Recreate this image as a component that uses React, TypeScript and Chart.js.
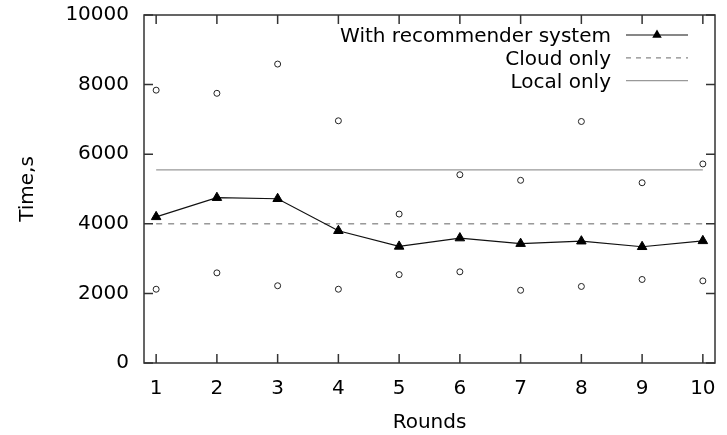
import React, { useEffect, useRef } from 'react';
import { Chart, registerables } from 'chart.js';

Chart.register(...registerables);

const rounds = [1, 2, 3, 4, 5, 6, 7, 8, 9, 10];
const recommenderTimes = [4200, 4750, 4720, 3800, 3350, 3590, 3430, 3500, 3340, 3510];
const upperTimes = [7840, 7750, 8590, 6960, 4280, 5410, 5250, 6940, 5180, 5720];
const lowerTimes = [2120, 2590, 2220, 2120, 2540, 2620, 2090, 2200, 2400, 2360];
const cloudOnlyTime = 4000;
const localOnlyTime = 5550;
const yTickValues = [0, 2000, 4000, 6000, 8000, 10000];
const seriesLabels = ['With recommender system', 'Cloud only', 'Local only'];
const xTitle = 'Rounds';
const yTitle = 'Time,s';

const FONT = "'DejaVu Sans', sans-serif";

const framePlugin = {
  id: 'gnuFrame',
  afterDraw(chart: any) {
    const { ctx, chartArea } = chart;
    const { left, right, top, bottom } = chartArea;
    const xs = chart.scales.x;
    const ys = chart.scales.y;
    ctx.save();
    ctx.strokeStyle = '#333';
    ctx.lineWidth = 1.5;
    ctx.setLineDash([]);
    ctx.strokeRect(left, top, right - left, bottom - top);
    const tl = 9;
    ctx.beginPath();
    xs.ticks.forEach((t: any) => {
      const px = xs.getPixelForValue(t.value);
      ctx.moveTo(px, bottom);
      ctx.lineTo(px, bottom - tl);
      ctx.moveTo(px, top);
      ctx.lineTo(px, top + tl);
    });
    ys.ticks.forEach((t: any) => {
      const py = ys.getPixelForValue(t.value);
      ctx.moveTo(left, py);
      ctx.lineTo(left + tl, py);
      ctx.moveTo(right, py);
      ctx.lineTo(right - tl, py);
    });
    ctx.stroke();

    // legend
    const items = chart.data.datasets.filter((d: any) => d.label);
    const textRight = 611;
    const lineL = 626;
    const lineR = 688;
    ctx.font = `20px ${FONT}`;
    ctx.textAlign = 'right';
    ctx.textBaseline = 'middle';
    items.forEach((d: any, i: number) => {
      const y = 35 + i * 22.8;
      ctx.fillStyle = '#000';
      ctx.fillText(d.label, textRight, y + 2);
      ctx.beginPath();
      ctx.strokeStyle = d.borderColor;
      ctx.lineWidth = d.borderWidth;
      ctx.setLineDash(d.legendDash || d.borderDash || []);
      ctx.moveTo(lineL, y);
      ctx.lineTo(lineR, y);
      ctx.stroke();
      ctx.setLineDash([]);
      if (d.pointRadius > 0) {
        const r = d.pointRadius;
        const cx = (lineL + lineR) / 2;
        ctx.beginPath();
        let rad = 0;
        ctx.moveTo(cx + Math.sin(rad) * r, y - Math.cos(rad) * r);
        rad += (2 * Math.PI) / 3;
        ctx.lineTo(cx + Math.sin(rad) * r, y - Math.cos(rad) * r);
        rad += (2 * Math.PI) / 3;
        ctx.lineTo(cx + Math.sin(rad) * r, y - Math.cos(rad) * r);
        ctx.closePath();
        ctx.fillStyle = d.pointBackgroundColor;
        ctx.fill();
      }
    });
    ctx.restore();
  },
};

export default function App() {
  const ref = useRef<HTMLCanvasElement>(null);

  useEffect(() => {
    if (!ref.current) return;
    const first = rounds[0];
    const last = rounds[rounds.length - 1];
    const chart = new Chart(ref.current, {
      type: 'scatter',
      data: {
        datasets: [
          {
            label: seriesLabels[0],
            data: rounds.map((r, i) => ({ x: r, y: recommenderTimes[i] })),
            showLine: true,
            borderColor: '#111',
            borderWidth: 1.2,
            pointStyle: 'triangle',
            pointRadius: 5.5,
            pointBackgroundColor: '#000',
            pointBorderColor: '#000',
            pointBorderWidth: 1,
            order: 0,
          } as any,
          {
            label: seriesLabels[1],
            data: [
              { x: first, y: cloudOnlyTime },
              { x: last, y: cloudOnlyTime },
            ],
            showLine: true,
            borderColor: '#888',
            borderWidth: 1.3,
            borderDash: [6, 6],
            legendDash: [5, 5],
            pointRadius: 0,
            order: 2,
          } as any,
          {
            label: seriesLabels[2],
            data: [
              { x: first, y: localOnlyTime },
              { x: last, y: localOnlyTime },
            ],
            showLine: true,
            borderColor: '#999',
            borderWidth: 1.2,
            pointRadius: 0,
            order: 2,
          } as any,
          {
            label: '',
            data: rounds.map((r, i) => ({ x: r, y: upperTimes[i] })),
            showLine: false,
            pointStyle: 'circle',
            pointRadius: 3,
            pointBorderColor: '#222',
            pointBorderWidth: 1,
            pointBackgroundColor: 'rgba(255,255,255,0)',
            order: 1,
          } as any,
          {
            label: '',
            data: rounds.map((r, i) => ({ x: r, y: lowerTimes[i] })),
            showLine: false,
            pointStyle: 'circle',
            pointRadius: 3,
            pointBorderColor: '#222',
            pointBorderWidth: 1,
            pointBackgroundColor: 'rgba(255,255,255,0)',
            order: 1,
          } as any,
        ],
      },
      options: {
        animation: false,
        responsive: false,
        maintainAspectRatio: false,
        layout: { padding: { left: 0, right: 12, top: 15, bottom: 0 } },
        plugins: {
          legend: { display: false },
          tooltip: { enabled: false },
        },
        scales: {
          x: {
            type: 'linear',
            min: 0.8,
            max: 10.2,
            grid: { display: false, drawTicks: false, tickLength: 0 },
            border: { display: false },
            afterBuildTicks: (scale: any) => {
              scale.ticks = rounds.map((v) => ({ value: v }));
            },
            afterFit: (scale: any) => {
              scale.height = 72;
              scale.paddingLeft = 0;
              scale.paddingRight = 0;
              scale.paddingTop = 0;
              scale.paddingBottom = 0;
            },
            ticks: {
              padding: 14,
              color: '#000',
              font: { family: FONT, size: 20 },
              maxRotation: 0,
              autoSkip: false,
              callback: (v: any) => String(v),
            },
            title: {
              display: true,
              text: xTitle,
              color: '#000',
              font: { family: FONT, size: 20 },
              padding: { top: 0, bottom: 0 },
            },
          },
          y: {
            type: 'linear',
            min: yTickValues[0],
            max: yTickValues[yTickValues.length - 1],
            grid: { display: false, drawTicks: false, tickLength: 0 },
            border: { display: false },
            afterBuildTicks: (scale: any) => {
              scale.ticks = yTickValues.map((v) => ({ value: v }));
            },
            afterFit: (scale: any) => {
              scale.width = 144;
              scale.paddingLeft = 0;
              scale.paddingRight = 0;
              scale.paddingTop = 0;
              scale.paddingBottom = 0;
            },
            ticks: {
              padding: 15,
              color: '#000',
              font: { family: FONT, size: 20 },
              callback: (v: any) => String(v),
            },
            title: {
              display: true,
              text: yTitle,
              color: '#000',
              font: { family: FONT, size: 20 },
              padding: { top: 16, bottom: 0 },
            },
          },
        },
      },
      plugins: [framePlugin],
    });
    return () => chart.destroy();
  }, []);

  return (
    <div style={{ position: 'absolute', left: 0, top: 0, width: 727, height: 435, background: '#fff' }}>
      <canvas ref={ref} width={727} height={435} style={{ width: 727, height: 435 }} />
    </div>
  );
}
